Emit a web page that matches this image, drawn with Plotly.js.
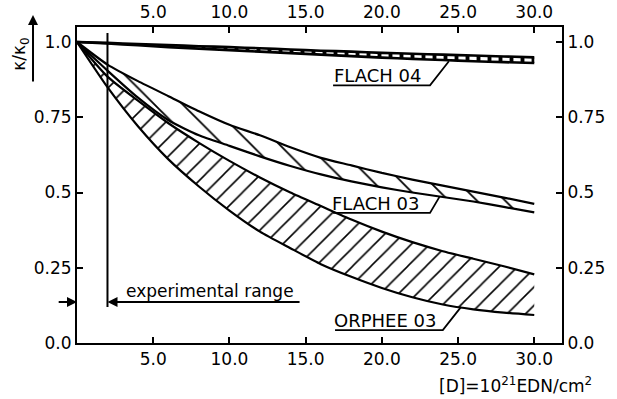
<!DOCTYPE html>
<html>
<head>
<meta charset="utf-8">
<script src="https://cdn.plot.ly/plotly-3.0.1.min.js"></script>
<style>
  html, body { margin: 0; padding: 0; background: #fff; }
  #chart { width: 617px; height: 399px; }
</style>
</head>
<body>
<div id="chart"></div>
<script>
// Dose grid, in units of 10^21 EDN/cm^2
const dose = [0, 2, 4, 6, 8, 10, 12, 14, 16, 18, 20, 22, 24, 26, 28, 30];

// Relative thermal conductivity kappa/kappa0, upper and lower bounds of each band
const flach04Upper = [1.0, 0.997, 0.993, 0.990, 0.986, 0.983, 0.979, 0.975, 0.971, 0.968, 0.964, 0.961, 0.958, 0.955, 0.952, 0.949];
const flach04Lower = [1.0, 0.995, 0.989, 0.983, 0.978, 0.973, 0.968, 0.963, 0.958, 0.953, 0.948, 0.944, 0.940, 0.936, 0.933, 0.930];
const flach03Upper = [1.0, 0.925, 0.870, 0.820, 0.770, 0.725, 0.690, 0.650, 0.615, 0.590, 0.565, 0.543, 0.523, 0.503, 0.483, 0.462];
const flach03Lower = [1.0, 0.905, 0.815, 0.740, 0.690, 0.655, 0.620, 0.588, 0.560, 0.537, 0.517, 0.500, 0.485, 0.470, 0.452, 0.434];
const orpheeUpper  = [1.0, 0.885, 0.805, 0.730, 0.665, 0.605, 0.550, 0.500, 0.455, 0.410, 0.370, 0.335, 0.305, 0.280, 0.255, 0.228];
const orpheeLower  = [1.0, 0.850, 0.720, 0.610, 0.520, 0.440, 0.370, 0.315, 0.262, 0.220, 0.183, 0.152, 0.128, 0.112, 0.101, 0.093];

// Band names
const bandNames = ["FLACH 04", "FLACH 03", "ORPHEE 03"];

// Axis ticks
const xTickVals = [5, 10, 15, 20, 25, 30];
const xTickText = ["5.0", "10.0", "15.0", "20.0", "25.0", "30.0"];
const yTickVals = [0, 0.25, 0.5, 0.75, 1.0];
const yTickText = ["0.0", "0.25", "0.5", "0.75", "1.0"];

// Irradiation dose reached in the experiments
const expRangeEnd = 2;

const FONT = "DejaVu Sans, sans-serif";
const INK = "#000";

// Hatched area between two edges (closed outline, no stroke)
function bandFill(name, upper, lower, pattern) {
  return {
    type: "scatter", mode: "lines", name: name,
    x: dose.concat(dose.slice().reverse()),
    y: upper.concat(lower.slice().reverse()),
    fill: "toself",
    fillcolor: "rgba(0,0,0,0)",
    fillpattern: Object.assign({ fgcolor: INK, bgcolor: "white" }, pattern),
    line: { color: "rgba(0,0,0,0)", width: 0 },
    hoverinfo: "skip", showlegend: false
  };
}

// One bounding curve of a band
function edge(values, width) {
  return {
    type: "scatter", mode: "lines", x: dose, y: values,
    line: { color: INK, width: width, shape: "spline", smoothing: 0.6 },
    hoverinfo: "skip", showlegend: false
  };
}

const traces = [
  bandFill(bandNames[2], orpheeUpper, orpheeLower, { shape: "/", size: 13, solidity: 0.12 }),
  bandFill(bandNames[1], flach03Upper, flach03Lower, { shape: "\\", size: 20, solidity: 0.09 }),
  bandFill(bandNames[0], flach04Upper, flach04Lower, { shape: "|", size: 11, solidity: 0.35 }),
  edge(orpheeUpper, 2.2), edge(orpheeLower, 2.2),
  edge(flach03Upper, 2.2), edge(flach03Lower, 2.2),
  edge(flach04Upper, 2.6), edge(flach04Lower, 2.6),
  // carries the mirrored top/right axes
  { type: "scatter", mode: "markers", x: [0], y: [0], xaxis: "x2", yaxis: "y2",
    marker: { opacity: 0 }, hoverinfo: "skip", showlegend: false }
];

const axisCommon = {
  showgrid: false, zeroline: false,
  showline: true, linecolor: INK, linewidth: 2,
  ticks: "inside", ticklen: 6, tickwidth: 2, tickcolor: INK,
  tickfont: { family: FONT, size: 17, color: INK },
  tickmode: "array"
};

// Label underline + leader to its band (data coordinates)
const leaders = [
  "M16.8,0.856 L23.16,0.856 L24.4,0.936",
  "M16.8,0.432 L23.16,0.432 L23.8,0.487",
  "M16.93,0.043 L24.0,0.043 L25.2,0.12"
];
const labelPos = [[19.75, 0.888], [19.6, 0.462], [20.2, 0.076]];

const shapes = leaders.map(p => ({
  type: "path", xref: "x", yref: "y", path: p,
  line: { color: INK, width: 1.8 }
}));
// vertical marker at the end of the experimental range
shapes.push({
  type: "line", xref: "x", yref: "y",
  x0: expRangeEnd, x1: expRangeEnd, y0: 0.12, y1: 1.03,
  line: { color: INK, width: 2 }
});

const annotations = bandNames.map((t, i) => ({
  text: t, x: labelPos[i][0], y: labelPos[i][1], xref: "x", yref: "y",
  showarrow: false, xanchor: "center", yanchor: "middle",
  font: { family: FONT, size: 18, color: INK }
}));

annotations.push(
  // dimension arrows of the experimental range
  { x: expRangeEnd, y: 0.136, ax: 14.7, ay: 0.136, xref: "x", yref: "y", axref: "x", ayref: "y",
    text: "", showarrow: true, arrowhead: 2, arrowsize: 1, arrowwidth: 2, arrowcolor: INK },
  { x: 0, y: 0.136, ax: -1.3, ay: 0.136, xref: "x", yref: "y", axref: "x", ayref: "y",
    text: "", showarrow: true, arrowhead: 2, arrowsize: 1, arrowwidth: 2, arrowcolor: INK },
  { text: "experimental range", x: 8.73, y: 0.173, xref: "x", yref: "y",
    showarrow: false, xanchor: "center", yanchor: "middle",
    font: { family: FONT, size: 17, color: INK } },
  // y-axis quantity with upward arrow
  { x: -0.0907, y: 1.038, xref: "paper", yref: "paper", ax: 0, ay: 68,
    text: "", showarrow: true, arrowhead: 2, arrowsize: 1, arrowwidth: 2, arrowcolor: INK },
  { text: "κ/κ<sub>0</sub>", x: -0.1155, y: 0.915, xref: "paper", yref: "paper",
    showarrow: false, textangle: -90, xanchor: "center", yanchor: "middle",
    font: { family: FONT, size: 17, color: INK } },
  // dose unit
  { text: "[D]=10<sup>21</sup>EDN/cm<sup>2</sup>", x: 1.066, y: -0.133,
    xref: "paper", yref: "paper", showarrow: false, xanchor: "right", yanchor: "middle",
    font: { family: FONT, size: 17, color: INK } }
);

const layout = {
  width: 617, height: 399,
  margin: { l: 77, r: 55, t: 27, b: 56, pad: 0 },
  paper_bgcolor: "white", plot_bgcolor: "white",
  showlegend: false,
  xaxis: Object.assign({}, axisCommon, {
    range: [0, 31.82], tickvals: xTickVals, ticktext: xTickText
  }),
  xaxis2: Object.assign({}, axisCommon, {
    range: [0, 31.82], tickvals: xTickVals, ticktext: xTickText,
    overlaying: "x", side: "top", anchor: "y"
  }),
  yaxis: Object.assign({}, axisCommon, {
    range: [0, 1.0498], tickvals: yTickVals, ticktext: yTickText
  }),
  yaxis2: Object.assign({}, axisCommon, {
    range: [0, 1.0498], tickvals: yTickVals, ticktext: yTickText,
    overlaying: "y", side: "right", anchor: "x"
  }),
  shapes: shapes,
  annotations: annotations
};

Plotly.newPlot("chart", traces, layout, { staticPlot: true, displayModeBar: false });
</script>
</body>
</html>
